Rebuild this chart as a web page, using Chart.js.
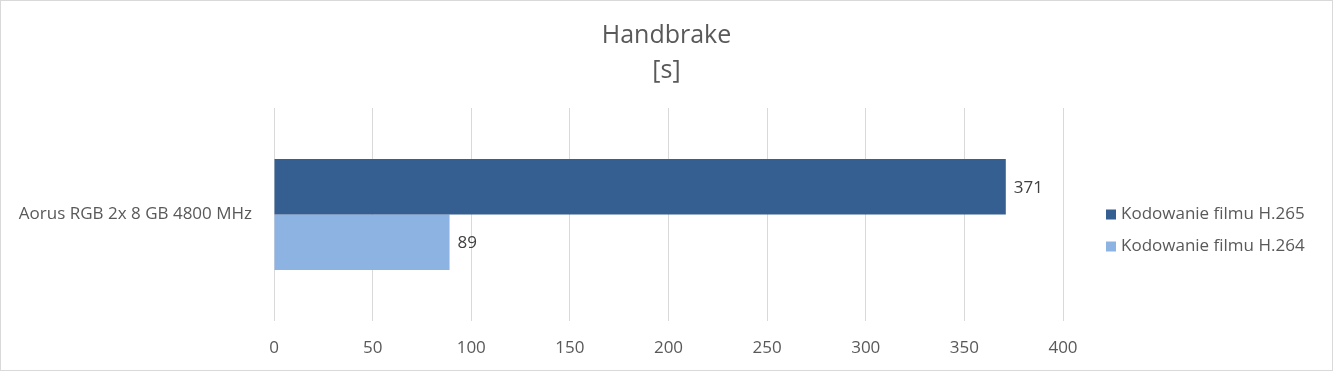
<!DOCTYPE html>
<html>
<head>
<meta charset="utf-8">
<script src="https://cdn.jsdelivr.net/npm/chart.js@4/dist/chart.umd.min.js"></script>
<style>
  html, body { margin: 0; padding: 0; background: #fff; }
  #wrap { width: 1333px; height: 371px; box-sizing: border-box; border: 1px solid #d9d9d9; }
</style>
</head>
<body>
<div id="wrap"><canvas id="myChart"></canvas></div>
<script>
var categories = ['Aorus RGB 2x 8 GB 4800 MHz'];
var seriesNames = ['Kodowanie filmu H.265', 'Kodowanie filmu H.264'];
var h265 = [371];
var h264 = [89];
var xTicks = [0, 50, 100, 150, 200, 250, 300, 350, 400];

var FONT = '"Open Sans", Lato, sans-serif';
Chart.defaults.font.family = FONT;
Chart.defaults.color = '#595959';

// draws the value next to the end of each bar
var valueLabels = {
    id: 'valueLabels',
    afterDatasetsDraw: function (chart) {
        var ctx = chart.ctx;
        ctx.save();
        ctx.font = '17px ' + FONT;
        ctx.fillStyle = '#404040';
        ctx.textAlign = 'left';
        ctx.textBaseline = 'middle';
        chart.data.datasets.forEach(function (ds, i) {
            chart.getDatasetMeta(i).data.forEach(function (bar, j) {
                ctx.fillText(ds.data[j], bar.x + 8, bar.y + 1);
            });
        });
        ctx.restore();
    }
};

// legend on the right, next to the plot area like in Excel
var sideLegend = {
    id: 'sideLegend',
    afterDraw: function (chart) {
        var ctx = chart.ctx;
        var area = chart.chartArea;
        var x = area.right + 43;
        var y = (area.top + area.bottom) / 2;
        ctx.save();
        ctx.font = '17px ' + FONT;
        ctx.textAlign = 'left';
        ctx.textBaseline = 'middle';
        chart.data.datasets.forEach(function (ds, i) {
            var cy = y + i * 32;
            ctx.fillStyle = ds.backgroundColor;
            ctx.fillRect(x, cy - 5, 10, 10);
            ctx.fillStyle = '#595959';
            ctx.fillText(ds.label, x + 15, cy);
        });
        ctx.restore();
    }
};

var ctx = document.getElementById('myChart').getContext('2d');
var myChart = new Chart(ctx, {
    type: 'bar',
    data: {
        labels: categories,
        datasets: [{
            label: seriesNames[0],
            data: h265,
            backgroundColor: '#365f91'
        }, {
            label: seriesNames[1],
            data: h264,
            backgroundColor: '#8db3e2'
        }]
    },
    options: {
        indexAxis: 'y',
        responsive: true,
        maintainAspectRatio: false,
        animation: false,
        datasets: {
            bar: { categoryPercentage: 0.52, barPercentage: 1.0 }
        },
        layout: {
            padding: 0
        },
        plugins: {
            title: {
                display: true,
                text: ['Handbrake', '[s]'],
                color: '#595959',
                font: { size: 25, weight: 'normal', lineHeight: 1.4 },
                padding: { top: 17, bottom: 20 }
            },
            legend: { display: false },
            tooltip: { enabled: false }
        },
        scales: {
            x: {
                min: 0,
                max: 400,
                afterBuildTicks: function (scale) {
                    scale.ticks = xTicks.map(function (v) { return { value: v }; });
                },
                grid: { color: '#d9d9d9', drawTicks: false },
                border: { display: false },
                ticks: { padding: 17, color: '#595959', font: { size: 17 } },
                afterFit: function (scale) { scale.height = 49; }
            },
            y: {
                grid: { display: false },
                border: { display: false },
                ticks: { padding: 14, color: '#595959', font: { size: 17 } },
                afterFit: function (scale) { scale.width = 273; }
            },
            // empty axis on the right keeps room for the legend
            yRight: {
                type: 'category',
                axis: 'y',
                position: 'right',
                grid: { display: false },
                border: { display: false },
                ticks: { display: false },
                afterFit: function (scale) { scale.width = 269; }
            }
        }
    },
    plugins: [valueLabels, sideLegend]
});
</script>
</body>
</html>
